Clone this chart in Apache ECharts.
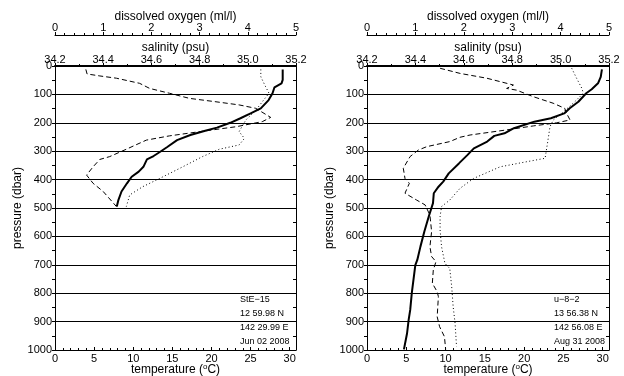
<!DOCTYPE html>
<html>
<head>
<meta charset="utf-8">
<script src="https://cdn.jsdelivr.net/npm/echarts@6/dist/echarts.min.js"></script>
<style>html,body{margin:0;padding:0;background:#fff}#c{width:624px;height:376px}</style>
</head>
<body>
<div id="c"></div>
<script>
// ---- Station StE-15 (left) ----
const T1_p = [12,49,61,75,96,120,149,167,184,200,217,228,243,261,286,302,317,329,355,372,390,413,442,472,495];
const T1   = [29.1,29.1,28.95,28.05,27.8,27.3,26.3,25.0,23.7,22.4,20.7,19.2,17.3,15.6,14.3,13.45,12.6,11.75,11.3,10.7,9.8,9.2,8.5,8.1,7.9];
const S1_p = [12,28,35,43,61,79,96,114,126,137,149,181,196,214,228,246,261,293,319,329,355,384,413,442,495];
const S1   = [34.328,34.333,34.386,34.455,34.551,34.593,34.675,34.758,34.868,34.964,35.033,35.095,35.06,34.95,34.827,34.675,34.579,34.496,34.427,34.386,34.358,34.331,34.358,34.40,34.455];
const O1_p = [12,38,73,96,126,155,190,219,231,255,278,293,319,355,396,425,454,495];
const O1   = [4.27,4.27,4.37,4.44,4.30,4.17,3.96,3.86,3.82,3.93,3.82,3.41,3.06,2.65,2.17,1.82,1.55,1.48];

// ---- Station u-8-2 (right) ----
const T2_p = [12,38,61,82,96,126,149,167,184,196,219,237,246,266,290,313,343,378,407,425,448,483,531,583,636,683,701,800,859,894,941,998];
const T2   = [29.9,29.75,29.4,28.6,27.9,26.9,25.8,25.1,23.4,21.3,18.7,17.5,16.2,15.3,13.6,12.8,11.7,10.4,9.7,9.1,8.5,8.4,7.85,7.3,6.8,6.4,6.15,5.7,5.5,5.3,5.1,4.7];
const S2_p = [8,26,43,67,79,85,108,131,149,167,190,200,211,225,243,251,266,284,296,319,360,396,413,448,472,489,525,583,636,671,689,718,765,795,812,883,918,953,998];
const S2   = [34.502,34.584,34.695,34.805,34.777,34.818,34.887,34.969,35.017,35.025,35.039,34.984,34.887,34.777,34.626,34.584,34.543,34.447,34.412,34.378,34.35,34.357,34.375,34.357,34.405,34.44,34.46,34.467,34.46,34.467,34.485,34.474,34.47,34.49,34.495,34.49,34.50,34.52,34.525];
const O2_p = [8,43,79,96,131,161,190,214,249,325,337,355,396,431,472,495,531,577,636,695,713,777,847,906,988];
const O2   = [4.23,4.33,4.44,4.47,4.26,4.06,3.85,3.78,3.75,3.68,3.30,2.75,2.20,1.92,1.71,1.54,1.51,1.51,1.54,1.61,1.71,1.75,1.78,1.82,1.85];

const stationInfo1 = ['StE\u221215','12 59.98 N','142 29.99 E','Jun 02 2008'];
const stationInfo2 = ['u\u22128\u22122','13 56.38 N','142 56.08 E','Aug 31 2008'];

const FONT = 'Liberation Sans, Arial, Helvetica, sans-serif';
const pair = (xs, ps) => xs.map((v, i) => [v, ps[i]]);

function xAxesFor(gi) {
  const base = {
    gridIndex: gi, type: 'value', splitLine: {show: false},
    axisLine: {onZero: false, lineStyle: {color: '#000', width: 1}},
    axisLabel: {color: '#000', fontFamily: FONT, fontSize: 11, margin: 3},
    nameLocation: 'middle', nameGap: 12, nameMoveOverlap: false,
    nameTextStyle: {color: '#000', fontFamily: FONT, fontSize: 12}
  };
  return [
    Object.assign({}, base, {
      position: 'bottom', min: 0, max: 30.8, interval: 5,
      name: 'temperature ({s|o}C)', nameGap: 13,
      nameTextStyle: {color: '#000', fontFamily: FONT, fontSize: 12,
        rich: {s: {fontSize: 8, verticalAlign: 'top', padding: [0, 0, 6, 0], fontFamily: FONT, color: '#000'}}},
      axisTick: {inside: true, length: 3, lineStyle: {color: '#000'}},
      minorTick: {show: true, splitNumber: 5, length: 2, lineStyle: {color: '#000'}},
      axisLabel: {color: '#000', fontFamily: FONT, fontSize: 11, margin: 3, showMaxLabel: false}
    }),
    Object.assign({}, base, {
      position: 'top', min: 34.2, max: 35.2, interval: 0.2,
      name: 'salinity (psu)',
      axisLine: {onZero: false, lineStyle: {color: '#000', width: 2}},
      axisTick: {inside: false, length: 3, lineStyle: {color: '#000'}},
      minorTick: {show: true, splitNumber: 2, length: 2, lineStyle: {color: '#000'}},
      axisLabel: {color: '#000', fontFamily: FONT, fontSize: 11, margin: 1,
        formatter: v => (Math.round(v * 10) / 10).toFixed(1)}
    }),
    Object.assign({}, base, {
      position: 'top', offset: 31, min: 0, max: 5, interval: 1,
      name: 'dissolved oxygen (ml/l)',
      axisLabel: {color: '#000', fontFamily: FONT, fontSize: 11, margin: 2},
      axisTick: {inside: false, length: 3, lineStyle: {color: '#000'}},
      minorTick: {show: true, splitNumber: 5, length: 2, lineStyle: {color: '#000'}}
    })
  ];
}

function yAxesFor(gi) {
  return [
    {
      gridIndex: gi, type: 'value', position: 'left', inverse: true,
      min: 0, max: 1000, interval: 100,
      name: 'pressure (dbar)', nameLocation: 'middle', nameGap: 31, nameRotate: 90, nameMoveOverlap: false,
      nameTextStyle: {color: '#000', fontFamily: FONT, fontSize: 12},
      axisLine: {show: true, onZero: false, lineStyle: {color: '#000', width: 1}},
      axisTick: {show: true, inside: false, length: 3, lineStyle: {color: '#000'}},
      minorTick: {show: true, splitNumber: 2, length: 3, lineStyle: {color: '#000'}},
      axisLabel: {color: '#000', fontFamily: FONT, fontSize: 11, margin: 3, formatter: v => String(v)},
      splitLine: {show: true, lineStyle: {color: '#000', width: 1}}
    },
    {
      gridIndex: gi, type: 'value', position: 'right', inverse: true,
      min: 0, max: 1000, interval: 100,
      axisLine: {show: true, onZero: false, lineStyle: {color: '#000', width: 1}},
      axisTick: {show: true, inside: true, length: 3, lineStyle: {color: '#000'}},
      minorTick: {show: true, splitNumber: 2, length: 3, lineStyle: {color: '#000'}},
      axisLabel: {show: false},
      splitLine: {show: false}
    }
  ];
}

function seriesFor(xi, yi, T, Tp, S, Sp, O, Op) {
  const common = {type: 'line', symbol: 'none', yAxisIndex: yi, silent: true, animation: false};
  return [
    Object.assign({}, common, {name: 'temperature', xAxisIndex: xi, data: pair(T, Tp),
      lineStyle: {color: '#000', width: 2}}),
    Object.assign({}, common, {name: 'salinity', xAxisIndex: xi + 1, data: pair(S, Sp),
      lineStyle: {color: '#000', width: 1, type: [5, 3]}}),
    Object.assign({}, common, {name: 'oxygen', xAxisIndex: xi + 2, data: pair(O, Op),
      lineStyle: {color: '#000', width: 1, type: [1, 2.5]}})
  ];
}

const chart = echarts.init(document.getElementById('c'), null, {renderer: 'canvas'});
chart.setOption({
  animation: false,
  backgroundColor: '#fff',
  grid: [
    {left: 55, right: 328, top: 66, bottom: 26, outerBoundsMode: 'none', containLabel: false},
    {left: 367, right: 15, top: 66, bottom: 26, outerBoundsMode: 'none', containLabel: false}
  ],
  xAxis: xAxesFor(0).concat(xAxesFor(1)),
  yAxis: yAxesFor(0).concat(yAxesFor(1)),
  series: seriesFor(0, 0, T1, T1_p, S1, S1_p, O1, O1_p)
    .concat(seriesFor(3, 2, T2, T2_p, S2, S2_p, O2, O2_p)),
  graphic: stationInfo1.map((t, i) => ({
      type: 'text', left: 240, top: 295 + i * 14,
      style: {text: t, fill: '#000', font: '9px ' + FONT}
    })).concat(stationInfo2.map((t, i) => ({
      type: 'text', left: 554, top: 295 + i * 14,
      style: {text: t, fill: '#000', font: '9px ' + FONT}
    })))
});
</script>
</body>
</html>
